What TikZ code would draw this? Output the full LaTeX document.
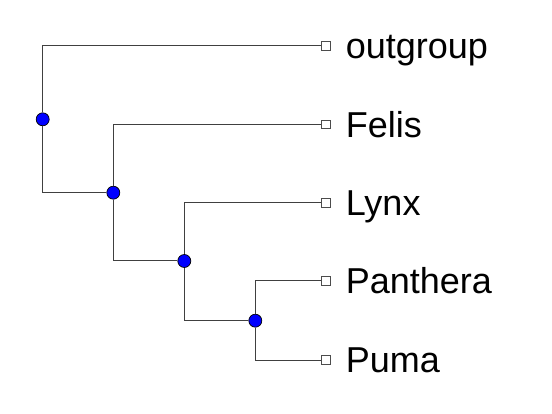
\documentclass[tikz,border=0pt]{standalone}
\usepackage{fontspec}
\setmainfont{Liberation Sans}
\usetikzlibrary{positioning}

\begin{document}
\begin{tikzpicture}[x=1pt, y=-1pt,
				ancestor/.style={draw, circle, fill=blue, minimum size=13pt, inner sep=0pt, line width=0.7pt},
				tip/.style={draw=black!70, fill=white, rectangle, minimum size=8.5pt, inner sep=0pt, line width=0.7pt},
				taxon/.style={inner sep=0pt, text height=26pt, text depth=0pt, font=\fontsize{36}{43}\selectfont},
				branch/.style={black!75, line width=1pt}]
				%Bildbereich
				\useasboundingbox (0,0) rectangle (552,414);
				% innere Knoten
				\node[ancestor] (n1) at (42.7,119.3) {};
				\node[ancestor] (n2) at (113.3,192.7) {};
				\node[ancestor] (n3) at (184.3,261) {};
				\node[ancestor] (n4) at (255.3,320.7) {};
				% Blaetter mit Namen
				\foreach \name/\y in {outgroup/46, Felis/124.3, Lynx/202.7, Panthera/280.7, Puma/360}{
					\node[tip] (\name) at (326,\y) {};
					\node[taxon, right=15pt of \name] (t\name) {\name};
				}
				% Aeste zeichnen
				\draw[branch] (n1) |- (outgroup);
				\draw[branch] (n1) |- (n2);
				\draw[branch] (n2) |- (Felis);
				\draw[branch] (n2) |- (n3);
				\draw[branch] (n3) |- (Lynx);
				\draw[branch] (n3) |- (n4);
				\draw[branch] (n4) |- (Panthera);
				\draw[branch] (n4) |- (Puma);
			\end{tikzpicture}
\end{document}
